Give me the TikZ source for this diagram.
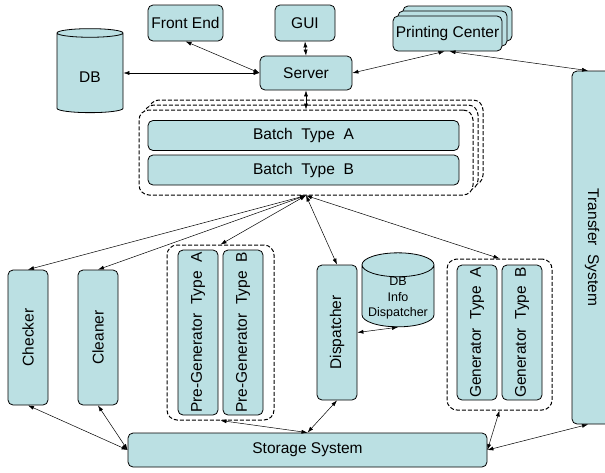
\documentclass[tikz,border=0pt]{standalone}
\usepackage{fontspec}
\setmainfont{Liberation Sans}
\usetikzlibrary{arrows.meta}
\usetikzlibrary{shapes.geometric}
\definecolor{boxfill}{RGB}{187,224,227}
\tikzset{
  box/.style={draw, fill=boxfill, line width=0.8pt, rounded corners=5pt, inner sep=0pt, align=center},
  vbox/.style={box, rotate=90, minimum height=40pt},
  dashbox/.style={draw, fill=white, line width=1pt, dash pattern=on 4pt off 2pt, rounded corners=10pt, inner sep=0pt},
  dbcyl/.style={draw, fill=boxfill, line width=0.8pt, cylinder, shape border rotate=90, aspect=0.4, inner sep=0pt},
  conn/.style={{Latex[length=6pt,width=4pt]}-{Latex[length=6pt,width=4pt]}, line width=0.5pt},
}
\begin{document}
\begin{tikzpicture}[x=1pt,y=-1pt,font=\fontsize{15.5}{17}\selectfont]
  \useasboundingbox (0,0) rectangle (605,472);
  \clip (0,0) rectangle (605,472);

  \node[box, minimum width=75pt, minimum height=36pt] (front) at (185.5,23) {Front End};
  \node[box, minimum width=60pt, minimum height=36pt] (gui) at (305,23) {GUI};
  \foreach \s in {10,5}
    \draw[box] ({393+\s},{16-\s}) rectangle ({502+\s},{51-\s});
  \node[box, minimum width=109pt, minimum height=35pt] (print) at (447.5,33.5) {Printing Center};
  \node[box, minimum width=92pt, minimum height=34pt] (server) at (306,73) {Server};
  \node[dbcyl, minimum width=66pt, minimum height=84pt] (db) at (90,73) {\smash{\raisebox{-9pt}{DB}}};

  \foreach \s in {10,5}
    \draw[dashbox] ({139+\s},{110-\s}) rectangle ({473+\s},{195-\s});
  \node[dashbox, minimum width=334pt, minimum height=85pt] (batch) at (306,152.5) {};
  \node[box, minimum width=311pt, minimum height=30pt] (batchA) at (303.5,135.5) {Batch\ \ Type\ \ A};
  \node[box, minimum width=311pt, minimum height=30pt] (batchB) at (303.5,170) {Batch\ \ Type\ \ B};

  \node[vbox, minimum width=135pt] (checker) at (28,337.5) {Checker};
  \node[vbox, minimum width=135pt] (cleaner) at (98,337.5) {Cleaner};
  \node[dashbox, minimum width=107pt, minimum height=175pt] (pregen) at (220.5,332.5) {};
  \node[vbox, minimum width=165pt] (pregenA) at (198,332.5) {Pre-Generator\ \ Type\ \ A};
  \node[vbox, minimum width=165pt] (pregenB) at (243,332.5) {Pre-Generator\ \ Type\ \ B};
  \node[vbox, minimum width=135pt] (disp) at (337,332.5) {Dispatcher};
  \node[dbcyl, minimum width=72pt, minimum height=74pt, font=\fontsize{12.5}{15.5}\selectfont] (dbinfo) at (398,296)
    {\smash{\raisebox{10.5pt}{\begin{tabular}[t]{@{}c@{}}DB\\Info\\Dispatcher\end{tabular}}}};
  \node[dashbox, minimum width=105pt, minimum height=151pt] (gen) at (499.5,334.5) {};
  \node[vbox, minimum width=135pt] (genA) at (477,332.5) {Generator\ \ Type\ \ A};
  \node[vbox, minimum width=135pt] (genB) at (522,332.5) {Generator\ \ Type\ \ B};
  \node[box, rotate=-90, minimum width=353pt, minimum height=40pt] (transfer) at (592,247.5) {Transfer\ \ System};
  \node[box, minimum width=359pt, minimum height=34pt] (storage) at (307.5,450) {Storage System};

  \draw[conn] (db.east) -- (server.west);
  \draw[conn] (front.south) -- (server.west);
  \draw[conn] (gui.south) -- (server.north);
  \draw[conn] (server.east) -- ([xshift=-3pt]print.south);
  \draw[conn] ([xshift=2pt]print.south) -- ([xshift=-4pt]transfer.west);
  \draw[conn] (server.south) -- (batch.north);
  \draw[conn] (batch.south) -- (checker.east);
  \draw[conn] (batch.south) -- (cleaner.east);
  \draw[conn] (batch.south) -- (pregen.north);
  \draw[conn] (batch.south) -- (disp.east);
  \draw[conn] (batch.south) -- (gen.north);
  \draw[conn] (disp.south) -- (dbinfo.south);
  \draw[conn] (checker.west) -- (storage.west);
  \draw[conn] (cleaner.west) -- (storage.west);
  \draw[conn] (storage.north) -- (pregen.south);
  \draw[conn] (storage.north) -- (disp.west);
  \draw[conn] (storage.east) -- (gen.south);
  \draw[conn] (storage.east) -- ([xshift=-4pt]transfer.east);
\end{tikzpicture}
\end{document}
